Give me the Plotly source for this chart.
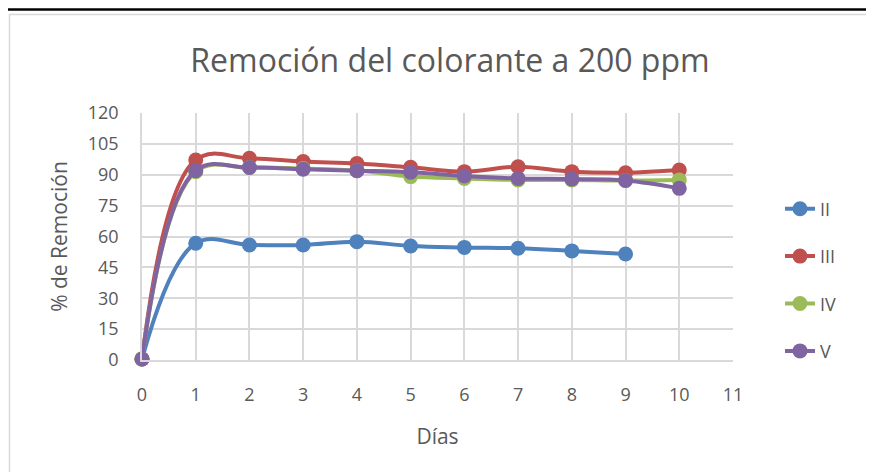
import plotly.graph_objects as go

# datos
dias = [0, 1, 2, 3, 4, 5, 6, 7, 8, 9, 10]
serie_ii = [0.5, 56.7, 55.9, 55.9, 57.5, 55.4, 54.7, 54.3, 53.0, 51.5]
serie_iii = [0.5, 97.2, 98.0, 96.4, 95.5, 93.6, 91.5, 93.9, 91.5, 91.0, 92.3]
serie_iv = [0.5, 91.5, 93.5, 93.0, 92.0, 89.1, 88.2, 87.5, 87.5, 87.2, 87.5]
serie_v = [0.5, 92.0, 93.5, 92.7, 92.0, 91.2, 89.4, 88.2, 87.9, 87.2, 83.4]

nombres = ['II', 'III', 'IV', 'V']
colores = ['#4F81BD', '#C0504D', '#9BBB59', '#8064A2']
y_ticks = list(range(0, 121, 15))
x_ticks = list(range(0, 12))

# la pagina tiene 8px de margen en el body: se corrige con OFF
OFF = 8
W, H = 874, 472
# area de trazado en pixeles de la pagina: x 142..733, y 113..360
L = 142 - OFF
T = 113 - OFF
R = W - (733 - OFF)
B = H - (360 - OFF)
pw, ph = W - L - R, H - T - B


def px_x(px):
	return (px - OFF - L) / pw


def px_y(py):
	return (H - B - (py - OFF)) / ph


fig = go.Figure()
for i, (nom, vals) in enumerate(zip(nombres, [serie_ii, serie_iii, serie_iv, serie_v])):
	fig.add_trace(go.Scatter(x=dias[:len(vals)], y=vals, name=nom,
							mode='lines+markers',
							line=dict(color=colores[i], width=4, shape='spline', smoothing=1.1),
							marker=dict(color=colores[i], size=15),
							cliponaxis=False,
							legendgroup=nom))

grid = '#d9d9d9'
texto = '#595959'
fuente = 'Open Sans, Liberation Sans, sans-serif'

fig.update_layout(
	width=W, height=H,
	margin=dict(l=L, r=R, t=T, b=B),
	paper_bgcolor='white', plot_bgcolor='white',
	font=dict(family=fuente, color=texto, size=18),
	title=dict(text='Remoción del colorante a 200 ppm', x=(450 - OFF) / W, xanchor='center',
			   y=1 - (61 - OFF) / H, yanchor='middle', font=dict(size=32, color=texto)),
	legend=dict(x=px_x(780), xanchor='left', y=px_y(280), yanchor='middle',
				tracegroupgap=21, font=dict(size=18, color=texto),
				bgcolor='rgba(0,0,0,0)'),
	shapes=[
		dict(type='rect', xref='paper', yref='paper',
			 x0=px_x(9.5), x1=px_x(900), y0=px_y(500), y1=px_y(14.5),
			 line=dict(color='#d9d9d9', width=1.5), layer='below'),
		# linea negra del recorte original (lo mas arriba posible)
		dict(type='line', xref='paper', yref='paper',
			 x0=px_x(-5), x1=px_x(880), y0=px_y(9.5), y1=px_y(9.5),
			 line=dict(color='black', width=2.5)),
	],
)
fig.update_xaxes(range=[0, 11], tickvals=x_ticks, showgrid=True, gridcolor=grid, gridwidth=1.5,
				 showline=True, linecolor=grid, linewidth=1.5, zeroline=False,
				 ticks='', ticklabelstandoff=18,
				 title=dict(text='Días', font=dict(size=21, color=texto), standoff=24))
fig.update_yaxes(range=[0, 120], tickvals=y_ticks, showgrid=True, gridcolor=grid, gridwidth=1.5,
				 showline=True, linecolor=grid, linewidth=1.5, zeroline=False,
				 ticks='', ticklabelstandoff=18,
				 title=dict(text='% de Remoción', font=dict(size=21, color=texto), standoff=14))

fig.write_html("out.html")
